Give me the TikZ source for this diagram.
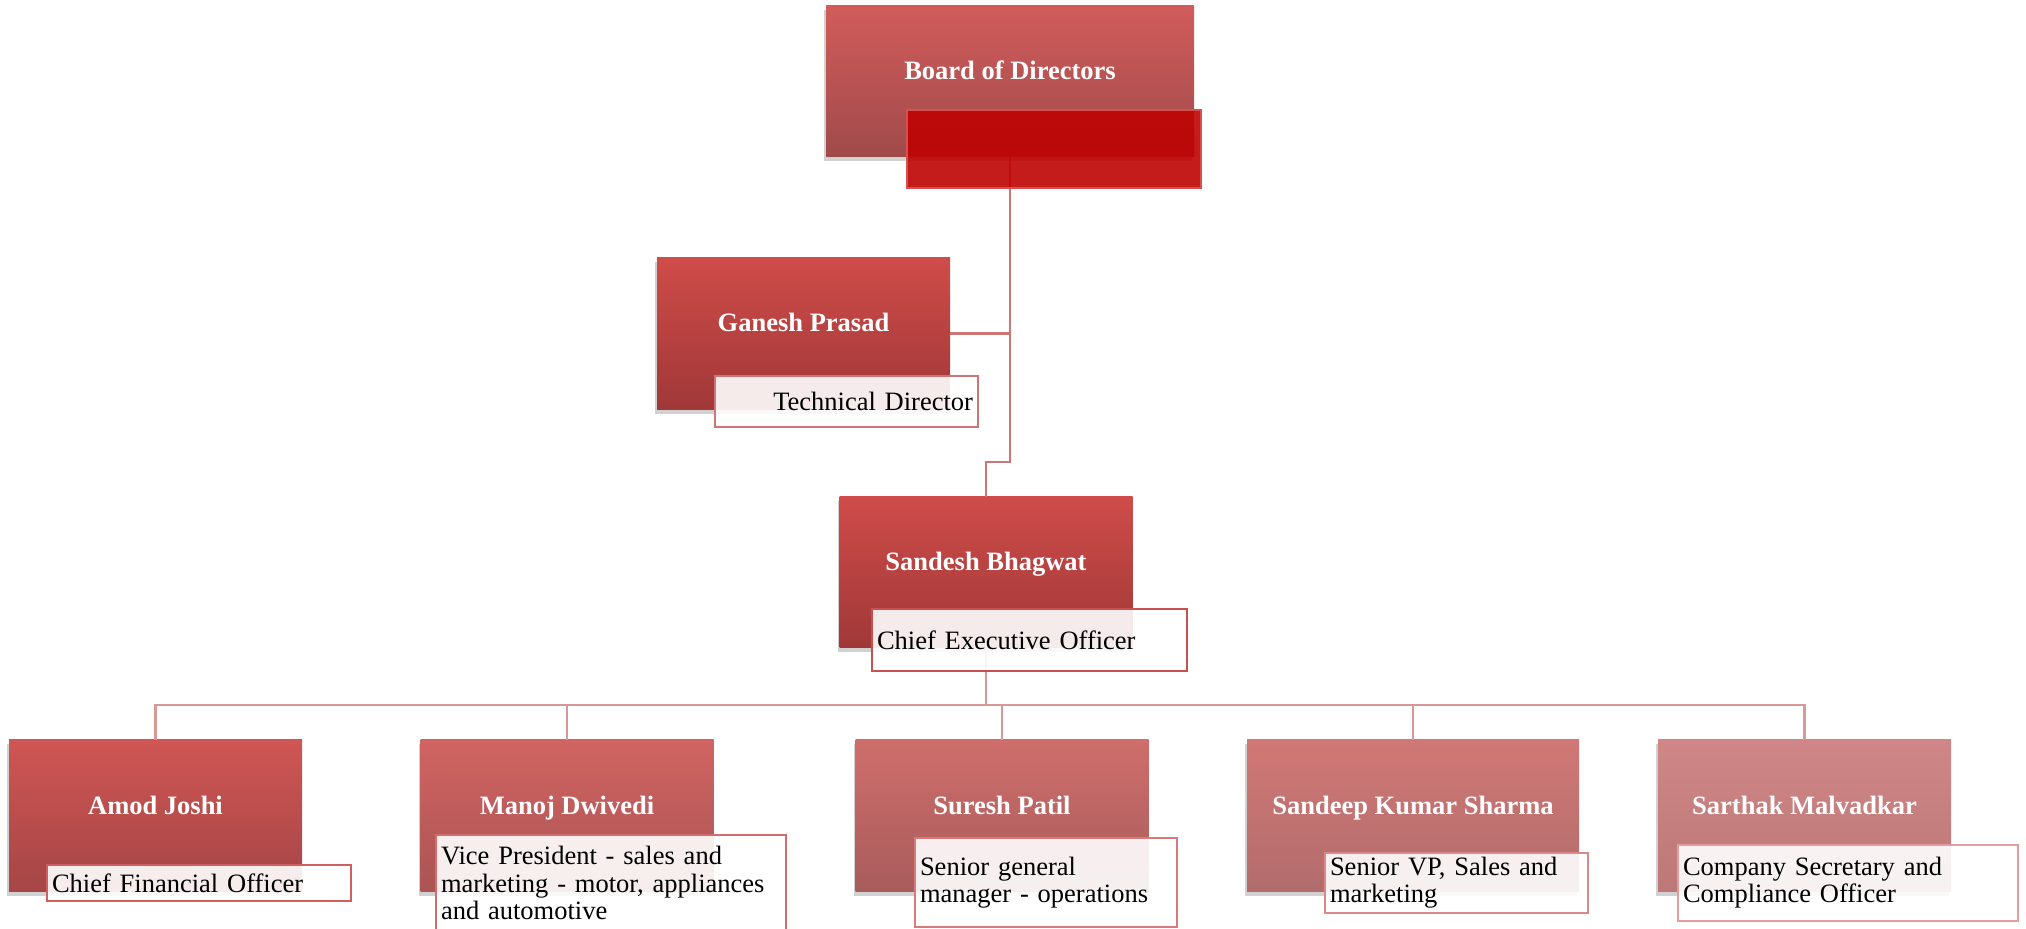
\documentclass[tikz,border=0pt]{standalone}
\usepackage{fontspec}
\setmainfont{Liberation Serif}
\usetikzlibrary{shadows}

% box colours, top and bottom of each gradient
\definecolor{boardtop}{RGB}{210,92,92}   \definecolor{boardbot}{RGB}{160,74,74}
\definecolor{deeptop}{RGB}{207,76,73}    \definecolor{deepbot}{RGB}{160,56,56}
\definecolor{cfotop}{RGB}{207,86,84}     \definecolor{cfobot}{RGB}{165,70,70}
\definecolor{vptop}{RGB}{209,100,98}     \definecolor{vpbot}{RGB}{170,84,84}
\definecolor{opstop}{RGB}{207,110,107}   \definecolor{opsbot}{RGB}{168,92,92}
\definecolor{svptop}{RGB}{208,120,118}   \definecolor{svpbot}{RGB}{178,108,108}
\definecolor{costop}{RGB}{208,134,134}   \definecolor{cobot}{RGB}{188,120,120}
% role box frames
\definecolor{boardedge}{RGB}{214,80,80}
\definecolor{ceoedge}{RGB}{200,80,80}
\definecolor{cfoedge}{RGB}{210,95,95}
\definecolor{vpedge}{RGB}{212,110,110}
\definecolor{opsedge}{RGB}{216,122,122}
\definecolor{svpedge}{RGB}{220,136,136}
\definecolor{coedge}{RGB}{228,156,156}
\definecolor{linkred}{RGB}{206,118,118}
\definecolor{buspink}{RGB}{216,152,152}
\definecolor{blank}{RGB}{190,2,2}

\tikzset{
person/.style 2 args={top color=#1, bottom color=#2, draw=none, minimum width=146.5pt, minimum height=76pt,
  text=white, font=\fontsize{13.25}{13.6}\selectfont\bfseries, text height=8pt, text depth=9.7pt,
  drop shadow={shadow xshift=-0.8pt, shadow yshift=-2.2pt, opacity=0.18, fill=black}},
role/.style={draw=#1, line width=0.9pt, fill=white, fill opacity=0.9, text opacity=1, draw opacity=1,
  align=left, inner xsep=2.5pt, inner ysep=1pt},
link/.style={draw=#1, line width=1.1pt}
}

\begin{document}
\begin{tikzpicture}[x=0.5pt, y=-0.5pt, every node/.style={font=\fontsize{13.25}{13.6}\selectfont}]
\useasboundingbox (0,0) rectangle (2026,929);

% people
\node[person={boardtop}{boardbot}, minimum width=184pt, minimum height=75.5pt] (board) at (1010,81.5) {Board of Directors};
\node[person={deeptop}{deepbot}] (techdir) at (803.5,333.5) {Ganesh Prasad};
\node[person={deeptop}{deepbot}, minimum height=75.5pt] (ceo) at (986,572.5) {Sandesh Bhagwat};
\node[person={cfotop}{cfobot}] (cfo) at (155.5,816) {Amod Joshi};
\node[person={vptop}{vpbot}] (vpsales) at (567,816) {Manoj Dwivedi};
\node[person={opstop}{opsbot}] (opsgm) at (1002,816) {Suresh Patil};
\node[person={svptop}{svpbot}, minimum width=166pt] (svp) at (1413,816) {Sandeep Kumar Sharma};
\node[person={costop}{cobot}] (cosec) at (1804.5,816) {Sarthak Malvadkar};

% reporting lines
\coordinate (bend) at (1010,462);
\coordinate (bus) at (986,705);
\draw[link=linkred] (board.south) -- (bend) -| (ceo.north);
\draw[link=linkred] (techdir.east) -- (techdir.east -| board.south);
\draw[link=buspink] (ceo.south) -- (bus);
\foreach \n in {cfo,vpsales,opsgm,svp,cosec}
  \draw[link=buspink] (bus) -| (\n.north);

% role boxes
\node[role=boardedge, fill=blank, minimum width=147pt, minimum height=39pt] (boardrole) at (1054,149) {};
\node[role=linkred, text width=126.5pt, minimum height=25.5pt, align=right] (techrole) at (846.5,401.5) {Technical Director};
\node[role=ceoedge, text width=152.5pt, minimum height=31pt] (ceorole) at (1029.5,640) {Chief Executive Officer};
\node[role=cfoedge, text width=147pt, minimum height=18pt] (cforole) at (199,883) {Chief Financial Officer};
\node[role=vpedge, text width=170pt, minimum height=48pt] (vprole) at (611,883) {Vice President - sales and\\marketing - motor, appliances\\and automotive};
\node[role=opsedge, text width=126pt, minimum height=44.5pt] (opsrole) at (1046,882.5) {Senior general\\manager - operations};
\node[role=svpedge, text width=126.5pt, minimum height=30pt] (svprole) at (1456.5,883) {Senior VP, Sales and\\marketing};
\node[role=coedge, text width=165pt, minimum height=38pt] (cosecrole) at (1848,883) {Company Secretary and\\Compliance Officer};
\end{tikzpicture}
\end{document}
